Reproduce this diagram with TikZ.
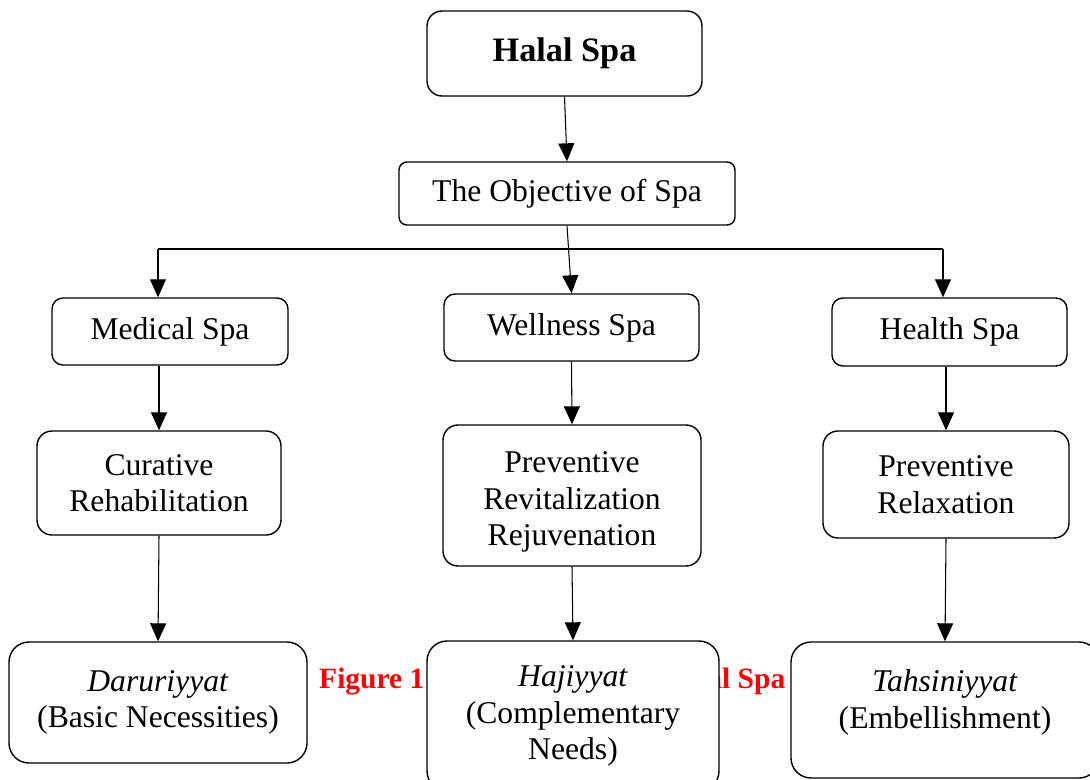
\documentclass[tikz,border=0pt]{standalone}
\usepackage{fontspec}
\setmainfont{Liberation Serif}
\usetikzlibrary{arrows.meta}
\begin{document}
\begin{tikzpicture}[
	box/.style={draw,fill=white,line width=0.8pt,rounded corners=0.22cm,align=center,inner sep=2pt,font=\fontsize{18}{20.8}\selectfont},
	bigbox/.style={box,rounded corners=0.4cm},
	arr/.style={line width=0.6pt,-{Triangle[width=0.32cm,length=0.36cm]}},
	bar/.style={line width=1.4pt}]
	\useasboundingbox (0,0) rectangle (21.8,-15.58);
				\node[anchor=base west,text=red,font=\fontsize{16.8}{20}\selectfont\bfseries](caption) at (6.26,-13.76){Figure 1: The Objective of Halal Spa};
				\node[box,rounded corners=0.3cm,minimum width=5.5cm,minimum height=1.7cm,font=\fontsize{19.5}{23}\selectfont\bfseries](halal) at (11.29,-1.07){Halal Spa};
				\node[box,rounded corners=0.16cm,minimum width=6.72cm,minimum height=1.26cm](objective) at (11.34,-3.87){The Objective of Spa};
				\node[box,minimum width=4.72cm,minimum height=1.34cm](medical) at (3.40,-6.63){Medical Spa};
				\node[box,minimum width=5.10cm,minimum height=1.34cm](wellness) at (11.43,-6.55){Wellness Spa};
				\node[box,minimum width=4.70cm,minimum height=1.36cm](health) at (18.99,-6.64){Health Spa};
				\node[box,rounded corners=0.3cm,minimum width=4.88cm,minimum height=2.08cm](curative) at (3.18,-9.66){Curative\\Rehabilitation};
				\node[box,rounded corners=0.3cm,minimum width=5.16cm,minimum height=2.82cm](preventive) at (11.44,-9.91){\rule{0pt}{0.69cm}Preventive\\Revitalization\\Rejuvenation};
				\node[box,rounded corners=0.3cm,minimum width=4.92cm,minimum height=2.14cm](relaxation) at (18.92,-9.69){Preventive\\Relaxation};
				\node[bigbox,minimum width=5.96cm,minimum height=2.42cm](daruriyyat) at (3.16,-14.05){\textit{Daruriyyat}\\(Basic Necessities)};
				\node[bigbox,minimum width=5.84cm,minimum height=3.0cm](hajiyyat) at (11.46,-14.32){\textit{Hajiyyat}\\(Complementary\\Needs)};
				\node[bigbox,minimum width=6.16cm,minimum height=2.72cm](tahsiniyyat) at (18.9,-14.2){\textit{Tahsiniyyat}\\(Embellishment)\rule[-0.45cm]{0pt}{0pt}};
				\coordinate(barleft) at (3.16,-4.98);
				\coordinate(barright) at (18.86,-4.98);
				\draw[arr](halal.south) to (objective.north);
				\draw[bar](barleft) to (barright);
				\draw[arr](objective.south) to (wellness.north);
				\draw[arr](barleft) to (barleft |- medical.north);
				\draw[arr](barright) to (barright |- health.north);
				\draw[arr](curative.north |- medical.south) to (curative.north);
				\draw[arr](wellness.south) to (preventive.north);
				\draw[arr](relaxation.north |- health.south) to (relaxation.north);
				\draw[arr](curative.south) to (daruriyyat.north);
				\draw[arr](preventive.south) to (hajiyyat.north);
				\draw[arr](relaxation.south) to (tahsiniyyat.north);
\end{tikzpicture}
\end{document}
